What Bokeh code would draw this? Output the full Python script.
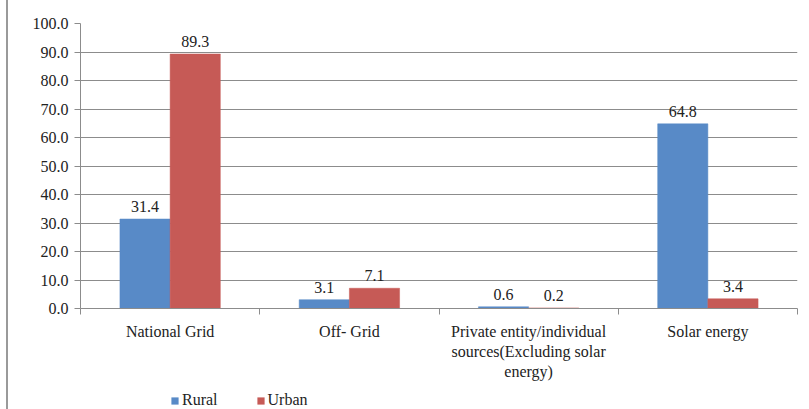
from bokeh.plotting import figure
from bokeh.layouts import column
from bokeh.models import ColumnDataSource, FixedTicker, Legend, LegendItem, NumeralTickFormatter
from bokeh.core.properties import value
from bokeh.embed import file_html
from bokeh.resources import INLINE

categories = ["National Grid", "Off- Grid",
              "Private entity/individual\nsources(Excluding solar\nenergy)", "Solar energy"]
rural = [31.4, 3.1, 0.6, 64.8]
urban = [89.3, 7.1, 0.2, 3.4]
series_names = ["Rural", "Urban"]
colors = ["#588AC7", "#C65A56"]
y_ticks = [0, 10, 20, 30, 40, 50, 60, 70, 80, 90, 100]

FONT = "Liberation Serif"
bw = 0.28

p = figure(width=800, height=384, x_range=(0, 4), y_range=(0, 100),
           output_backend="svg", toolbar_location=None,
           min_border_left=72, min_border_right=11, min_border_top=23, min_border_bottom=76)
p.outline_line_color = None
p.background_fill_color = "white"

centers = [i + 0.5 for i in range(len(categories))]
for k, (vals, col) in enumerate(zip([rural, urban], colors)):
    xs = [c + (k - 0.5) * bw for c in centers]
    src = ColumnDataSource(dict(x=xs, top=vals, lab=["%.1f" % v for v in vals]))
    p.vbar(x="x", top="top", width=bw, bottom=0, source=src, fill_color=col,
           line_color=col, line_width=0.5)
    p.text(x="x", y="top", text="lab", source=src, text_align="center", text_baseline="bottom",
           y_offset=-7, text_font=value(FONT), text_font_size="16px", text_color="#222222")

# axes
p.xaxis.ticker = FixedTicker(ticks=centers, minor_ticks=[0, 1, 2, 3, 4])
p.xaxis.major_label_overrides = {c: lab for c, lab in zip(centers, categories)}
p.xaxis.major_tick_out = 0
p.xaxis.major_tick_in = 0
p.xaxis.minor_tick_out = 6
p.xaxis.minor_tick_in = 0
p.xaxis.minor_tick_line_color = "#8c8c8c"
p.xaxis.axis_line_color = "#8c8c8c"
p.xaxis.major_label_text_font = FONT
p.xaxis.major_label_text_font_size = "16px"
p.xaxis.major_label_text_color = "#222222"
p.xaxis.major_label_standoff = 8

p.yaxis.ticker = FixedTicker(ticks=y_ticks)
p.yaxis.formatter = NumeralTickFormatter(format="0.0")
p.yaxis.major_tick_out = 6
p.yaxis.major_tick_in = 0
p.yaxis.minor_tick_line_color = None
p.yaxis.major_tick_line_color = "#8c8c8c"
p.yaxis.axis_line_color = "#8c8c8c"
p.yaxis.major_label_text_font = FONT
p.yaxis.major_label_text_font_size = "16px"
p.yaxis.major_label_text_color = "#222222"
p.yaxis.major_label_standoff = 6

p.xgrid.grid_line_color = None
p.ygrid.grid_line_color = "#8c8c8c"
p.ygrid.ticker = FixedTicker(ticks=y_ticks)

# legend strip (zero-height bars only supply the legend swatches)
lf = figure(width=800, height=25, x_range=(0, 1), y_range=(0, 1),
            output_backend="svg", toolbar_location=None,
            min_border_left=72, min_border_right=11, min_border_top=0, min_border_bottom=0)
lf.axis.visible = False
lf.grid.visible = False
lf.outline_line_color = None
leg_renderers = [lf.vbar(x=[0.5], top=[0], bottom=[0], width=0.1, fill_color=c, line_color=None)
                 for c in colors]
legend = Legend(items=[LegendItem(label=n, renderers=[r]) for n, r in zip(series_names, leg_renderers)],
                orientation="horizontal", location=(90, 0), border_line_color=None,
                background_fill_alpha=0, label_text_font=FONT, label_text_font_size="16px",
                label_text_color="#222222", glyph_width=9, glyph_height=9, spacing=38,
                label_standoff=3, padding=0, margin=0)
lf.add_layout(legend)

layout = column(p, lf, spacing=0,
                styles={"margin-left": "6px", "border-left": "2px solid #9a9a9a"})

open("out.html", "w").write(file_html(layout, INLINE))
